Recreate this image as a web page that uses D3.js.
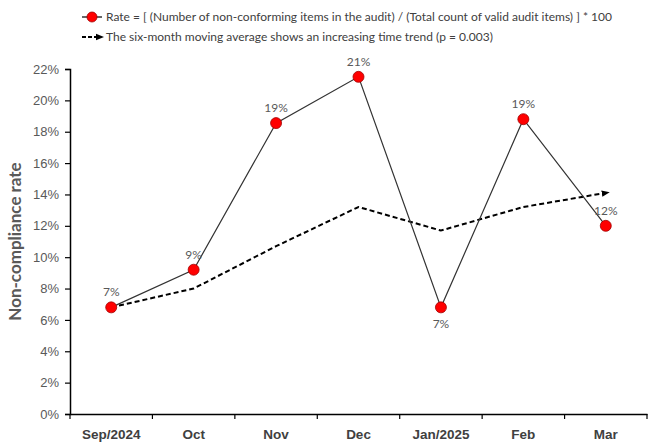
<!DOCTYPE html>
<html>
<head>
<meta charset="utf-8">
<script src="https://cdn.jsdelivr.net/npm/d3@7"></script>
<style>
	body { margin: 0; background: #fff; }
	svg { display: block; font-family: Lato, "Open Sans", sans-serif; }
</style>
</head>
<body>
<svg id="chart" width="650" height="444"></svg>
<script>
const months = ["Sep/2024", "Oct", "Nov", "Dec", "Jan/2025", "Feb", "Mar"];
const rate = [6.8, 9.2, 18.55, 21.5, 6.8, 18.8, 12.0];
const rateLabels = ["7%", "9%", "19%", "21%", "7%", "19%", "12%"];
const movingAvg = [6.8, 8.0, 10.7, 13.2, 11.7, 13.2, 14.1];
const yTicks = [0, 2, 4, 6, 8, 10, 12, 14, 16, 18, 20, 22];
const legendTexts = [
	"Rate = [ (Number of non-conforming items in the audit) / (Total count of valid audit items) ] * 100",
	"The six-month moving average shows an increasing time trend (p = 0.003)"
];

let svg = d3.select("#chart");
const margin = {left: 70, right: 3, top: 69, bottom: 30};
const width = +svg.attr("width"), height = +svg.attr("height");

const x = d3.scaleBand().domain(months).range([margin.left, width - margin.right]);
const y = d3.scaleLinear().domain([0, 22]).range([height - margin.bottom, margin.top]);
const cx = m => x(m) + x.bandwidth() / 2;

svg.append("defs").append("marker")
	.attr("id", "arrow")
	.attr("viewBox", "0 0 10 10")
	.attr("refX", 5).attr("refY", 5)
	.attr("markerWidth", 4).attr("markerHeight", 4)
	.attr("orient", "auto")
	.append("path").attr("d", "M0,1 L10,5 L0,9 z").attr("fill", "#000");

// y axis
let yAxis = svg.append("g")
	.attr("transform", `translate(${margin.left},0)`)
	.call(d3.axisLeft(y).tickValues(yTicks).tickFormat(d => d + "%").tickSize(5).tickPadding(6));
yAxis.select(".domain").attr("stroke", "#000").attr("stroke-width", 1.5);
yAxis.selectAll(".tick line").attr("stroke", "#000").attr("stroke-width", 1.2);
yAxis.selectAll("text").attr("font-size", 13).attr("fill", "#595959");

// x axis with ticks at category boundaries
let xAxis = svg.append("g")
	.attr("transform", `translate(0,${height - margin.bottom})`)
	.call(d3.axisBottom(x).tickSize(0).tickPadding(15));
xAxis.select(".domain").attr("stroke", "#000").attr("stroke-width", 1.5);
xAxis.selectAll("text").attr("font-size", 13.5).attr("font-weight", "bold").attr("fill", "#404040");
xAxis.selectAll(".boundary")
	.data(months.map(m => x(m)).concat([x(months[months.length - 1]) + x.bandwidth()]))
	.enter().append("line")
	.attr("x1", d => d).attr("x2", d => d)
	.attr("y1", 0).attr("y2", 5)
	.attr("stroke", "#000").attr("stroke-width", 1.2);

svg.append("text")
	.attr("transform", `translate(21,${(margin.top + height - margin.bottom) / 2}) rotate(-90)`)
	.attr("text-anchor", "middle")
	.attr("font-size", 17).attr("font-weight", "bold").attr("fill", "#595959")
	.text("Non-compliance rate");

// moving average
const line = d3.line().x((d, i) => cx(months[i])).y(d => y(d));
svg.append("path")
	.datum(movingAvg)
	.attr("d", line)
	.attr("fill", "none")
	.attr("stroke", "#000")
	.attr("stroke-width", 2)
	.attr("stroke-dasharray", "5,3")
	.attr("marker-end", "url(#arrow)");

// rate line
svg.append("path")
	.datum(rate)
	.attr("d", line)
	.attr("fill", "none")
	.attr("stroke", "#333")
	.attr("stroke-width", 1.2);

svg.append("g").selectAll("circle")
	.data(rate)
	.enter().append("circle")
	.attr("cx", (d, i) => cx(months[i]))
	.attr("cy", d => y(d))
	.attr("r", 5.5)
	.attr("fill", "#f00")
	.attr("stroke", "#a00000")
	.attr("stroke-width", 0.8);

svg.append("g").selectAll("text")
	.data(rate)
	.enter().append("text")
	.attr("x", (d, i) => cx(months[i]))
	.attr("y", (d, i) => i === 4 ? y(d) + 21 : y(d) - 11)
	.attr("text-anchor", "middle")
	.attr("font-size", 12).attr("fill", "#595959")
	.text((d, i) => rateLabels[i]);

// legend
let legend = svg.append("g").attr("transform", "translate(82,0)");
legend.append("line").attr("x1", 0).attr("x2", 20).attr("y1", 17).attr("y2", 17)
	.attr("stroke", "#333").attr("stroke-width", 1.5);
legend.append("circle").attr("cx", 10).attr("cy", 17).attr("r", 5)
	.attr("fill", "#f00").attr("stroke", "#a00000").attr("stroke-width", 0.8);
legend.append("line").attr("x1", 0).attr("x2", 18).attr("y1", 37).attr("y2", 37)
	.attr("stroke", "#000").attr("stroke-width", 2).attr("stroke-dasharray", "4,2")
	.attr("marker-end", "url(#arrow)");
legend.selectAll(".lt")
	.data(legendTexts)
	.enter().append("text")
	.attr("x", 24).attr("y", (d, i) => 21 + i * 20)
	.attr("font-size", 12).attr("fill", "#404040")
	.text(d => d);
</script>
</body>
</html>
